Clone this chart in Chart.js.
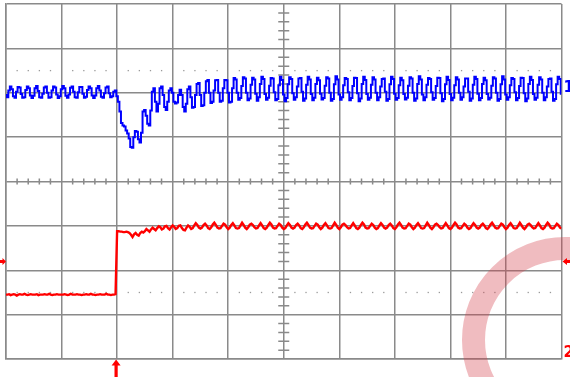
<!DOCTYPE html>
<html>
<head>
<meta charset="utf-8">
<script src="https://cdn.jsdelivr.net/npm/chart.js@4/dist/chart.umd.min.js"></script>
<style>
  html, body { margin: 0; padding: 0; background: #ffffff; }
  #wrap { width: 570px; height: 377px; position: relative; }
</style>
</head>
<body>
<div id="wrap"><canvas id="scope" width="570" height="377"></canvas></div>
<script>
// ---- Data (divisions: x 0..10, y -4..4) ----
const divisionsX = 10;
const divisionsY = 4;
const samplesPerDivision = 36;          // time base: one sample every 1/36 division
const triggerDivision = 2;
const channelLabels = ["1", "2"];

// Channel 1 (blue) readings, one per sample
const ch1PreTrigger = [
  1.95,1.90,2.05,2.14,2.08,1.92,1.89,2.02,2.13,2.12,1.97,1.89,
  1.90,2.06,2.14,2.10,1.94,1.88,1.93,2.10,2.15,2.04,1.90,1.89,
  1.98,2.12,2.14,2.00,1.89,1.90,2.05,2.14,2.12,1.96,1.88,1.92,
  2.08,2.15,2.10,1.93,1.89,1.96,2.11,2.14,2.02,1.90,1.89,2.01,
  2.13,2.13,1.98,1.89,1.91,2.06,2.14,2.10,1.94,1.88,1.94,2.10,
  2.15,2.05,1.91,1.89,1.99,2.12,2.14,1.99,1.90,1.92,2.02,2.05
];
const ch1Transient = [
  1.92,1.80,1.58,1.32,1.26,1.24,1.15,1.08,0.97,0.78,0.76,1.00,
  1.14,1.12,0.95,0.88,1.10,1.58,1.61,1.48,1.30,1.26,1.60,2.02,
  2.10,1.80,1.58,1.75,2.10,2.14,1.95,1.68,1.61,1.80,2.05,2.10,
  2.00,1.80,1.76,1.78,1.95,2.07,1.95,1.68,1.58,1.75,2.08,2.14,
  1.90,1.66,1.68,1.95,2.20,2.22,1.95,1.70,1.72,2.00,2.26,2.29,
  2.00,1.77,1.80,2.05,2.28,2.29,2.00,1.80,1.82,2.10,2.29,2.28,
  2.00,1.78,1.80,2.10,2.33,2.30,2.00
];
const ch1Steady = [
  1.84,1.88,2.15,2.35,2.32,2.00, 1.83,1.87,2.18,2.34,2.30,1.98,
  1.82,1.90,2.20,2.36,2.31,1.97, 1.84,1.89,2.16,2.33,2.32,2.01,
  1.83,1.86,2.17,2.36,2.29,1.96, 1.81,1.88,2.19,2.35,2.31,1.99,
  1.84,1.90,2.14,2.32,2.33,2.02, 1.82,1.87,2.18,2.36,2.30,1.97,
  1.83,1.89,2.20,2.34,2.28,1.98, 1.85,1.88,2.16,2.35,2.32,2.00,
  1.82,1.86,2.19,2.37,2.30,1.96, 1.84,1.90,2.17,2.33,2.31,2.01,
  1.83,1.88,2.15,2.34,2.33,1.99, 1.81,1.87,2.20,2.36,2.29,1.97,
  1.84,1.89,2.18,2.35,2.30,2.00, 1.83,1.90,2.14,2.31,2.32,2.02,
  1.82,1.86,2.19,2.36,2.31,1.98, 1.84,1.88,2.17,2.34,2.28,1.97,
  1.85,1.89,2.16,2.35,2.32,2.00, 1.82,1.87,2.20,2.37,2.30,1.96,
  1.83,1.90,2.18,2.33,2.31,2.01, 1.84,1.88,2.15,2.34,2.33,1.99,
  1.81,1.86,2.19,2.36,2.29,1.97, 1.83,1.89,2.17,2.35,2.30,2.00,
  1.84,1.90,2.14,2.32,2.32,2.02, 1.82,1.87,2.18,2.36,2.31,1.98,
  1.83,1.88,2.20,2.34,2.28,1.97, 1.85,1.89,2.16,2.35,2.32,2.00,
  1.82,1.86,2.19,2.37,2.30,1.96, 1.84,1.90,2.17,2.33,2.31,2.01,
  1.83,1.88,2.15,2.34,2.33,1.99, 1.81,1.87,2.20,2.36,2.29,1.97,
  1.84,1.89,2.18,2.35,2.30,2.00, 1.83,1.90,2.14,2.31,2.32,2.02,
  1.82,1.86,2.19,2.36,2.31,1.98
];

// Channel 2 (red) readings, one per sample
const ch2PreTrigger = [
  -2.55,-2.55,-2.54,-2.56,-2.55,-2.54,-2.55,-2.57,-2.55,-2.54,-2.55,-2.55,
  -2.53,-2.55,-2.56,-2.55,-2.54,-2.55,-2.55,-2.55,-2.54,-2.56,-2.55,-2.55,
  -2.55,-2.54,-2.55,-2.55,-2.53,-2.55,-2.56,-2.55,-2.55,-2.54,-2.55,-2.55,
  -2.55,-2.55,-2.54,-2.55,-2.56,-2.55,-2.53,-2.55,-2.55,-2.55,-2.54,-2.55,
  -2.55,-2.56,-2.55,-2.55,-2.54,-2.55,-2.55,-2.53,-2.55,-2.55,-2.56,-2.55,
  -2.55,-2.54,-2.55,-2.55,-2.55,-2.53,-2.55,-2.55,-2.56,-2.55,-2.55,-2.54
];
const ch2Transient = [
  -1.12,-1.12,-1.13,-1.13,-1.14,-1.14,-1.13,-1.14,-1.16,-1.20,-1.25,-1.19,
  -1.16,-1.20,-1.22,-1.16,-1.13,-1.15,-1.12,-1.07,-1.10,-1.13,-1.08,-1.04,
  -1.07,-1.10,-1.05,-1.01,-1.03,-1.08,-1.06,-1.01,-1.00,-1.05,-1.08,-1.03,
  -0.99,-1.02,-1.07,-1.05,-1.00,-0.99,-1.05,-1.09,-1.10,-1.04,-0.99,-1.02
];
const ch2Steady = [
  -1.07,-1.05,-0.99,-0.94,-0.98,-1.04, -1.06,-1.04,-0.98,-0.95,-0.99,-1.05,
  -1.07,-1.03,-0.97,-0.93,-0.98,-1.04, -1.06,-1.05,-1.00,-0.95,-0.97,-1.03,
  -1.07,-1.04,-0.98,-0.94,-0.99,-1.05, -1.06,-1.05,-0.99,-0.93,-0.98,-1.04,
  -1.07,-1.03,-0.97,-0.95,-0.98,-1.03, -1.06,-1.05,-0.99,-0.94,-0.99,-1.05,
  -1.07,-1.04,-0.98,-0.93,-0.97,-1.04, -1.06,-1.05,-1.00,-0.95,-0.98,-1.04,
  -1.07,-1.05,-0.99,-0.94,-0.98,-1.04, -1.06,-1.04,-0.98,-0.95,-0.99,-1.05,
  -1.07,-1.03,-0.97,-0.93,-0.98,-1.04, -1.06,-1.05,-1.00,-0.95,-0.97,-1.03,
  -1.07,-1.04,-0.98,-0.94,-0.99,-1.05, -1.06,-1.05,-0.99,-0.93,-0.98,-1.04,
  -1.07,-1.03,-0.97,-0.95,-0.98,-1.03, -1.06,-1.05,-0.99,-0.94,-0.99,-1.05,
  -1.07,-1.04,-0.98,-0.93,-0.97,-1.04, -1.06,-1.05,-1.00,-0.95,-0.98,-1.04,
  -1.07,-1.05,-0.99,-0.94,-0.98,-1.04, -1.06,-1.04,-0.98,-0.95,-0.99,-1.05,
  -1.07,-1.03,-0.97,-0.93,-0.98,-1.04, -1.06,-1.05,-1.00,-0.95,-0.97,-1.03,
  -1.07,-1.04,-0.98,-0.94,-0.99,-1.05, -1.06,-1.05,-0.99,-0.93,-0.98,-1.04,
  -1.07,-1.03,-0.97,-0.95,-0.98,-1.03, -1.06,-1.05,-0.99,-0.94,-0.99,-1.05,
  -1.07,-1.04,-0.98,-0.93,-0.97,-1.04, -1.06,-1.05,-1.00,-0.95,-0.98,-1.04,
  -1.07,-1.05,-0.99,-0.94,-0.98,-1.04, -1.06,-1.04,-0.98,-0.95,-0.99,-1.05,
  -1.07,-1.03,-0.97,-0.93,-0.98,-1.04, -1.06,-1.05,-1.00,-0.95,-0.97,-1.03,
  -1.07,-1.04,-0.98,-0.94,-0.99,-1.05, -1.06,-1.05,-0.99,-0.93,-0.98,-1.04,
  -1.07,-1.03,-0.97,-0.95,-0.98,-1.03, -1.06,-1.05,-0.99,-0.94,-0.99,-1.05,
  -1.07,-1.04,-0.98,-0.93,-0.97,-1.04, -1.06,-1.05,-1.00,-0.95,-0.98,-1.04,
  -1.06
];

// Marker positions (in divisions)
const ch1MarkerLevel = 2;
const ch2MarkerLevel = -4;
const triggerLevel = -1.8;
const dottedLevels = [2.5, -2.5];

// ---- Build library tables ----
const ch1 = ch1PreTrigger.concat(ch1Transient, ch1Steady);
const ch2 = ch2PreTrigger.concat(ch2Transient, ch2Steady);
function toPoints(arr) {
  return arr.map((v, i) => ({ x: i / samplesPerDivision, y: v }));
}

const GRID = '#8a8a8a';

const scopeDecor = {
  id: 'scopeDecor',
  beforeDatasetsDraw(chart) {
    const { ctx, scales: { x, y } } = chart;
    ctx.save();
    const x0 = x.getPixelForValue(5), y0 = y.getPixelForValue(0);
    ctx.strokeStyle = GRID;
    ctx.lineWidth = 1.5;
    ctx.beginPath();
    for (let k = 1; k < divisionsX * 5; k++) {
      if (k % 5 === 0) continue;
      const px = x.getPixelForValue(k / 5);
      ctx.moveTo(px, y0 - 3); ctx.lineTo(px, y0 + 3);
    }
    for (let k = 1; k < divisionsY * 10; k++) {
      if (k % 5 === 0) continue;
      const py = y.getPixelForValue(-divisionsY + k / 5);
      ctx.moveTo(x0 - 5.5, py); ctx.lineTo(x0 + 5.5, py);
    }
    ctx.stroke();
    // dotted reference lines
    ctx.fillStyle = '#9a9a9a';
    dottedLevels.forEach(lv => {
      const py = y.getPixelForValue(lv);
      for (let k = 1; k < divisionsX * 5; k++) {
        if (k % 5 === 0) continue;
        const px = x.getPixelForValue(k / 5);
        if (Math.abs(px - x0) < 7) continue;
        ctx.fillRect(px - 0.6, py - 0.6, 1.3, 1.3);
      }
    });
    ctx.restore();
  },
  afterDraw(chart) {
    const { ctx, scales: { x, y } } = chart;
    ctx.save();
    // watermark ring
    ctx.strokeStyle = 'rgba(210,60,70,0.34)';
    ctx.lineWidth = 23;
    ctx.beginPath();
    ctx.arc(565, 340, 91.5, 0, Math.PI * 2);
    ctx.stroke();

    const right = x.getPixelForValue(divisionsX);
    const left = x.getPixelForValue(0);
    // trigger level arrows
    const ty = y.getPixelForValue(triggerLevel);
    ctx.fillStyle = '#ff0000';
    ctx.beginPath();
    ctx.moveTo(0, ty - 1.5); ctx.lineTo(2.5, ty - 1.5); ctx.lineTo(2.5, ty - 3.5);
    ctx.lineTo(left, ty); ctx.lineTo(2.5, ty + 3.5); ctx.lineTo(2.5, ty + 1.5);
    ctx.lineTo(0, ty + 1.5); ctx.closePath(); ctx.fill();
    ctx.beginPath();
    ctx.moveTo(570, ty - 1.5); ctx.lineTo(567, ty - 1.5); ctx.lineTo(567, ty - 3.5);
    ctx.lineTo(right + 1, ty); ctx.lineTo(567, ty + 3.5); ctx.lineTo(567, ty + 1.5);
    ctx.lineTo(570, ty + 1.5); ctx.closePath(); ctx.fill();
    // trigger position arrow
    const tx = x.getPixelForValue(triggerDivision) - 1;
    const bottom = y.getPixelForValue(-divisionsY);
    ctx.beginPath();
    ctx.moveTo(tx, bottom + 0.5); ctx.lineTo(tx + 4.5, bottom + 6.5); ctx.lineTo(tx + 1.6, bottom + 6.5);
    ctx.lineTo(tx + 1.6, 377); ctx.lineTo(tx - 1.6, 377); ctx.lineTo(tx - 1.6, bottom + 6.5);
    ctx.lineTo(tx - 4.5, bottom + 6.5); ctx.closePath(); ctx.fill();
    // channel markers
    ctx.font = 'bold 15px "DejaVu Sans"';
    ctx.textBaseline = 'alphabetic';
    ctx.textAlign = 'left';
    ctx.fillStyle = '#0000ff';
    ctx.fillText(channelLabels[0], right + 2, y.getPixelForValue(ch1MarkerLevel) - 1);
    ctx.fillStyle = '#ff0000';
    ctx.fillText(channelLabels[1], right + 2, y.getPixelForValue(ch2MarkerLevel) - 2);
    ctx.restore();
  }
};

new Chart(document.getElementById('scope'), {
  type: 'line',
  data: {
    datasets: [
      { label: 'CH1', data: toPoints(ch1), borderColor: '#0000ff', borderWidth: 2,
        pointRadius: 0, tension: 0, fill: false, stepped: 'middle' },
      { label: 'CH2', data: toPoints(ch2), borderColor: '#ff0000', borderWidth: 2.4,
        pointRadius: 0, tension: 0, fill: false }
    ]
  },
  options: {
    responsive: false,
    animation: false,
    events: [],
    layout: { padding: { left: 6, right: 8.5, top: 4, bottom: 18 } },
    plugins: { legend: { display: false }, tooltip: { enabled: false } },
    scales: {
      x: {
        type: 'linear', min: 0, max: divisionsX,
        ticks: { display: false, stepSize: 1 },
        grid: { color: GRID, lineWidth: 1.5, drawTicks: false },
        border: { display: true, color: GRID, width: 1.5 },
        afterFit(s) { s.height = 0; }
      },
      y: {
        type: 'linear', min: -divisionsY, max: divisionsY,
        ticks: { display: false, stepSize: 1 },
        grid: { color: GRID, lineWidth: 1.5, drawTicks: false },
        border: { display: true, color: GRID, width: 1.5 },
        afterFit(s) { s.width = 0; }
      }
    }
  },
  plugins: [scopeDecor]
});
</script>
</body>
</html>
